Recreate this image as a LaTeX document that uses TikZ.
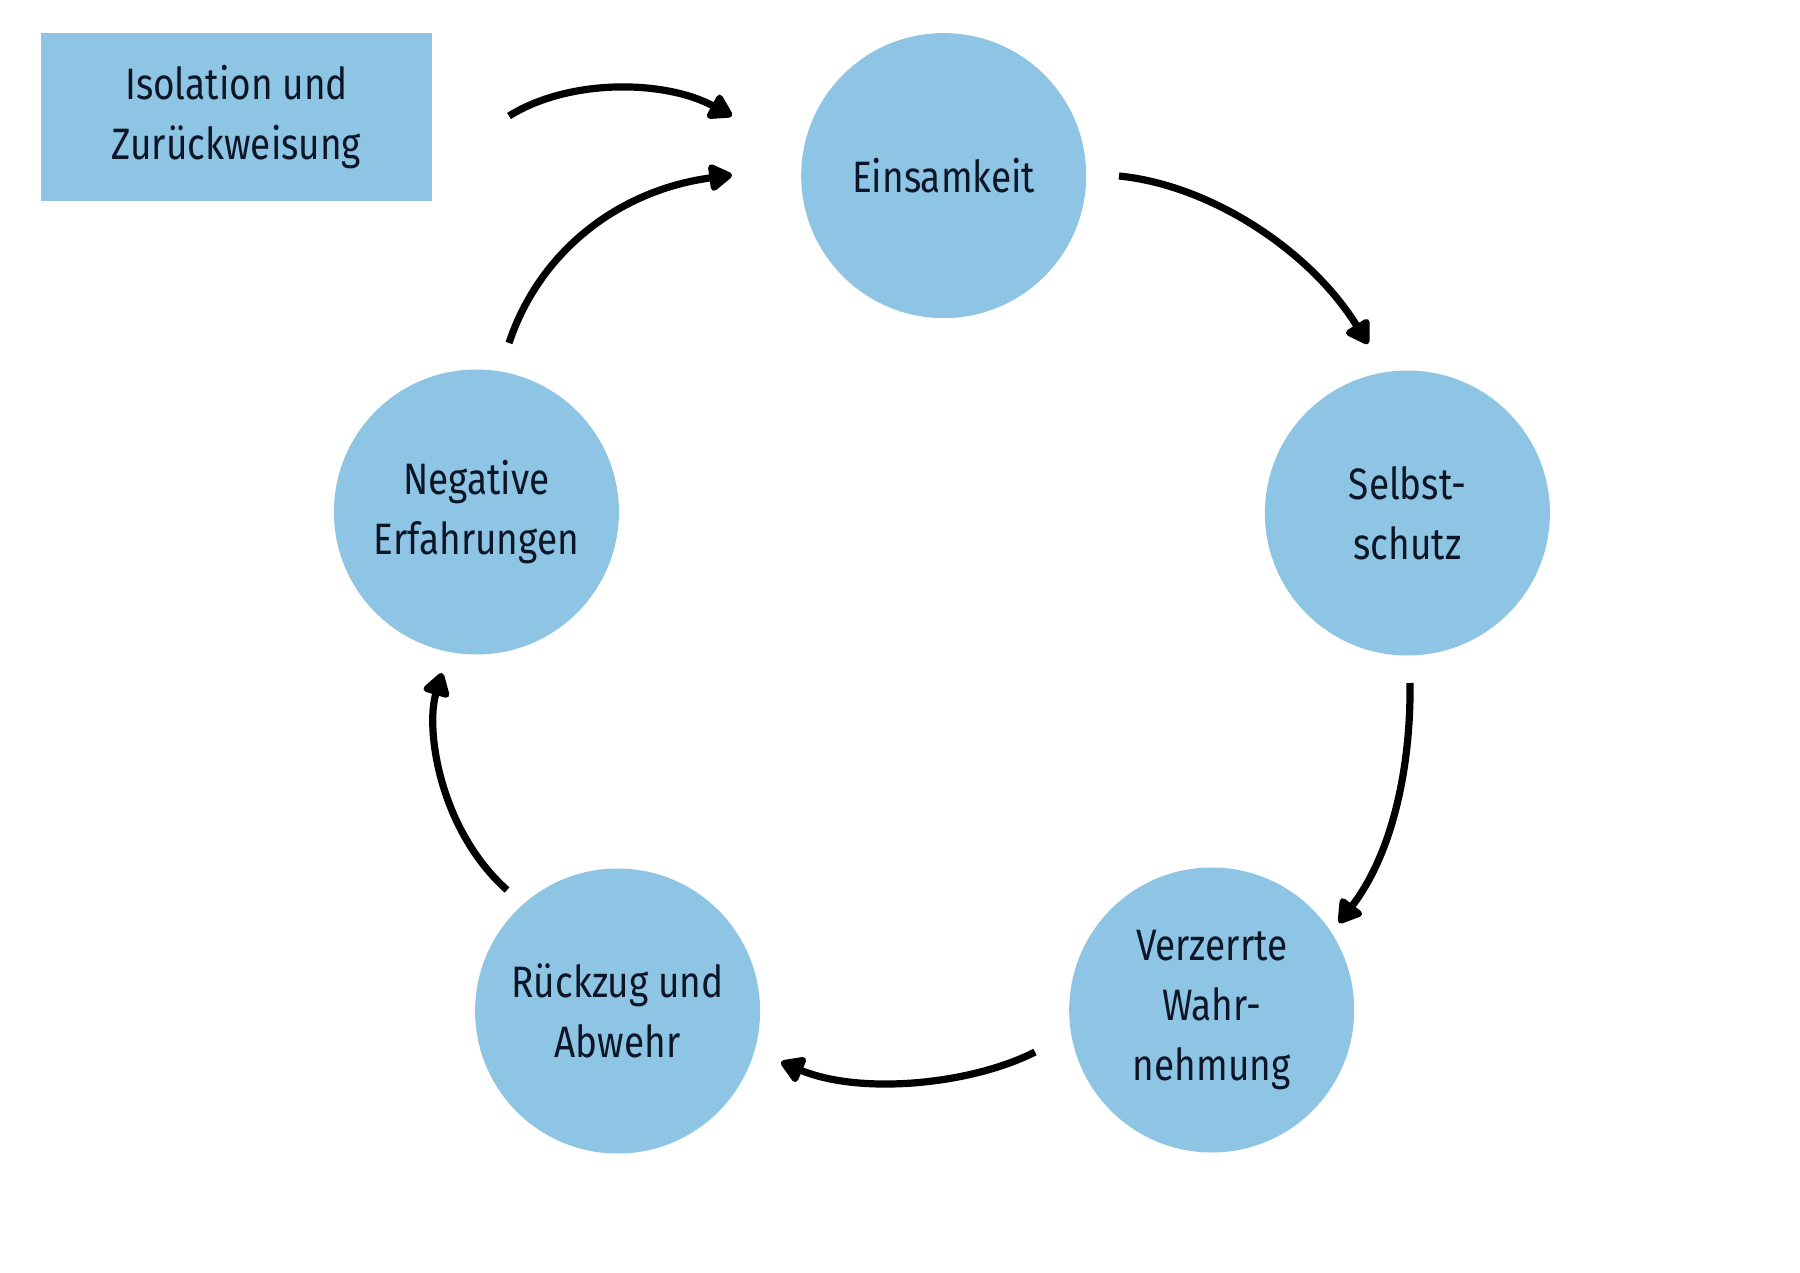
\documentclass[tikz,border=0pt]{standalone}
\usepackage{fontspec}
\setmainfont[FakeStretch=0.84]{Fira Sans}
\usetikzlibrary{arrows.meta}
\definecolor{cblue}{HTML}{8EC4E4}
\definecolor{ctext}{HTML}{0D1626}
\tikzset{
  bubble/.style={circle, fill=cblue, minimum size=142.5pt, inner sep=0pt, align=center, text=ctext, font=\fontsize{22}{30}\selectfont},
  srcbox/.style={rectangle, fill=cblue, minimum width=195.5pt, minimum height=84pt, inner sep=0pt, align=center, text=ctext, font=\fontsize{22}{30}\selectfont},
  flow/.style={line width=3.6pt, -{Triangle[length=13pt,width=15pt,round]}}
}
\begin{document}
\begin{tikzpicture}[x=0.5pt,y=-0.5pt]
\useasboundingbox (0,0) rectangle (1800,1273);
\fill[white] (0,0) rectangle (1800,1273);
\node[srcbox] (iso) at (236.5,117) {Isolation und\\Zurückweisung};
\node[bubble] (ein) at (943.7,175.6) {Einsamkeit};
\node[bubble] (sel) at (1407.4,513) {Selbst-\\schutz};
\node[bubble] (ver) at (1211.7,1010) {Verzerrte\\Wahr-\\nehmung};
\node[bubble] (rue) at (617.6,1011) {Rückzug und\\Abwehr};
\node[bubble] (neg) at (476.4,512) {Negative\\Erfahrungen};
\coordinate (a1s) at (509,116);  \coordinate (a1e) at (732,116);
\coordinate (a2s) at (509,343);  \coordinate (a2e) at (732,175);
\coordinate (a3s) at (1119,176); \coordinate (a3e) at (1368,344);
\coordinate (a4s) at (1410,683); \coordinate (a4e) at (1339,923);
\coordinate (a5s) at (1035,1052);\coordinate (a5e) at (781,1062);
\coordinate (a6s) at (507,890);  \coordinate (a6e) at (442,673);
\draw[flow] (a1s) .. controls (570,78) and (665,80) .. (a1e);
\draw[flow] (a2s) .. controls (540,250) and (620,190) .. (a2e);
\draw[flow] (a3s) .. controls (1210,185) and (1310,250) .. (a3e);
\draw[flow] (a4s) .. controls (1411,760) and (1395,850) .. (a4e);
\draw[flow] (a5s) .. controls (970,1085) and (860,1095) .. (a5e);
\draw[flow] (a6s) .. controls (440,830) and (425,730) .. (a6e);
\end{tikzpicture}
\end{document}
